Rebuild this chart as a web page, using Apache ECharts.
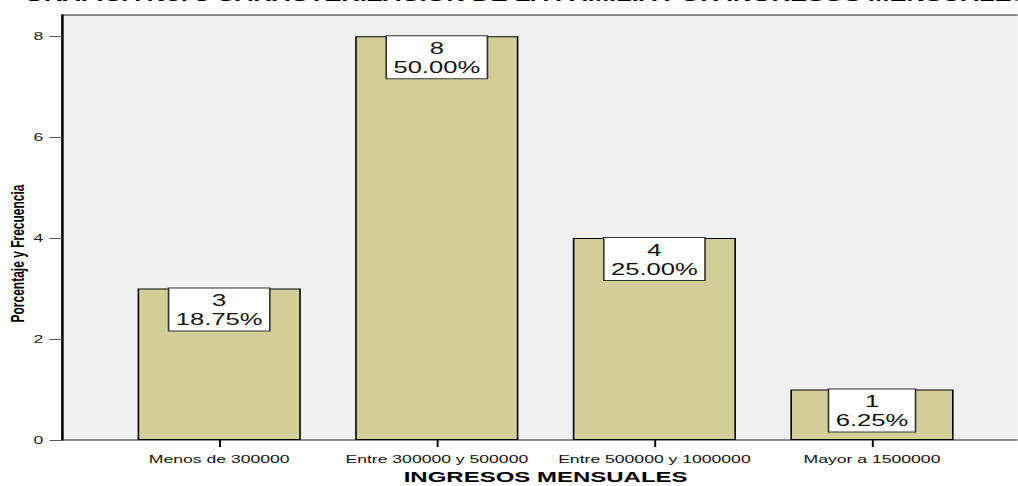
<!DOCTYPE html>
<html>
<head>
<meta charset="utf-8">
<script src="https://cdn.jsdelivr.net/npm/echarts@6/dist/echarts.min.js"></script>
<style>
  html, body { margin: 0; padding: 0; background: #fff; overflow: hidden; }
  /* the original picture is stretched sideways, so the chart is drawn narrow and scaled */
  #main { width: 636px; height: 486px; transform: scaleX(1.6); transform-origin: 0 0; }
</style>
</head>
<body>
<div id="main"></div>
<script>
var categories = ['Menos de 300000', 'Entre 300000 y 500000', 'Entre 500000 y 1000000', 'Mayor a 1500000'];
var frecuencia = [3, 8, 4, 1];
var porcentaje = ['18.75%', '50.00%', '25.00%', '6.25%'];
var yTicks = [0, 2, 4, 6, 8];

var chart = echarts.init(document.getElementById('main'), null, { renderer: 'svg' });

var font = 'Arial, "Liberation Sans", sans-serif';
var yMax = 8.42;

chart.setOption({
  animation: false,
  title: {
    text: 'GRAFICA No. 8 CARACTERIZACION DE LA FAMILIA POR INGRESOS MENSUALES',
    left: 10,
    top: -17,
    textStyle: { fontFamily: font, fontSize: 16, fontWeight: 'bold', color: '#000' }
  },
  grid: [
    // frame with grey background
    { left: 39, right: -10, top: 15, bottom: 46, outerBoundsMode: 'none', show: true, backgroundColor: '#f0f0f0', borderColor: '#222', borderWidth: 1 },
    // bars
    { left: 69, right: 23, top: 15, bottom: 46, outerBoundsMode: 'none' }
  ],
  xAxis: [
    { gridIndex: 0, type: 'value', show: false, min: 0, max: 1 },
    {
      gridIndex: 1,
      type: 'category',
      data: categories,
      axisLine: { show: false },
      axisTick: { show: true, alignWithLabel: true, length: 7, lineStyle: { color: '#000', width: 1.2 } },
      axisLabel: { interval: 0, fontFamily: font, fontSize: 11, color: '#111', margin: 14 },
      name: 'INGRESOS MENSUALES',
      nameLocation: 'middle',
      nameGap: 29,
      nameMoveOverlap: false,
      nameTextStyle: { fontFamily: font, fontSize: 15, fontWeight: 'bold', color: '#000' }
    }
  ],
  yAxis: [
    {
      gridIndex: 0,
      type: 'value',
      min: 0,
      max: yMax,
      interval: 2,
      splitLine: { show: false },
      axisLine: { show: true, lineStyle: { color: '#000', width: 1.5 } },
      axisTick: { show: true, length: 8, customValues: yTicks, lineStyle: { color: '#555', width: 1 } },
      axisLabel: { fontFamily: font, fontSize: 11, color: '#222', margin: 12, customValues: yTicks },
      name: 'Porcentaje y Frecuencia',
      nameLocation: 'middle',
      nameGap: 22,
      nameMoveOverlap: false,
      nameTextStyle: { fontFamily: font, fontSize: 12, fontWeight: 'bold', color: '#000', padding: [0, 52, 0, 0] }
    },
    { gridIndex: 1, type: 'value', min: 0, max: yMax, show: false }
  ],
  series: [{
    type: 'bar',
    xAxisIndex: 1,
    yAxisIndex: 1,
    data: frecuencia,
    barWidth: '75%',
    itemStyle: { color: '#d3ce98', borderColor: '#000', borderWidth: 1 },
    label: {
      show: true,
      position: 'insideTop',
      distance: 0,
      formatter: function (p) { return p.value + '\n' + porcentaje[p.dataIndex]; },
      fontFamily: font,
      fontSize: 16,
      lineHeight: 19,
      color: '#111',
      backgroundColor: '#fff',
      borderColor: '#333',
      borderWidth: 1,
      padding: [3, 4, 1, 4]
    }
  }]
});
</script>
</body>
</html>
